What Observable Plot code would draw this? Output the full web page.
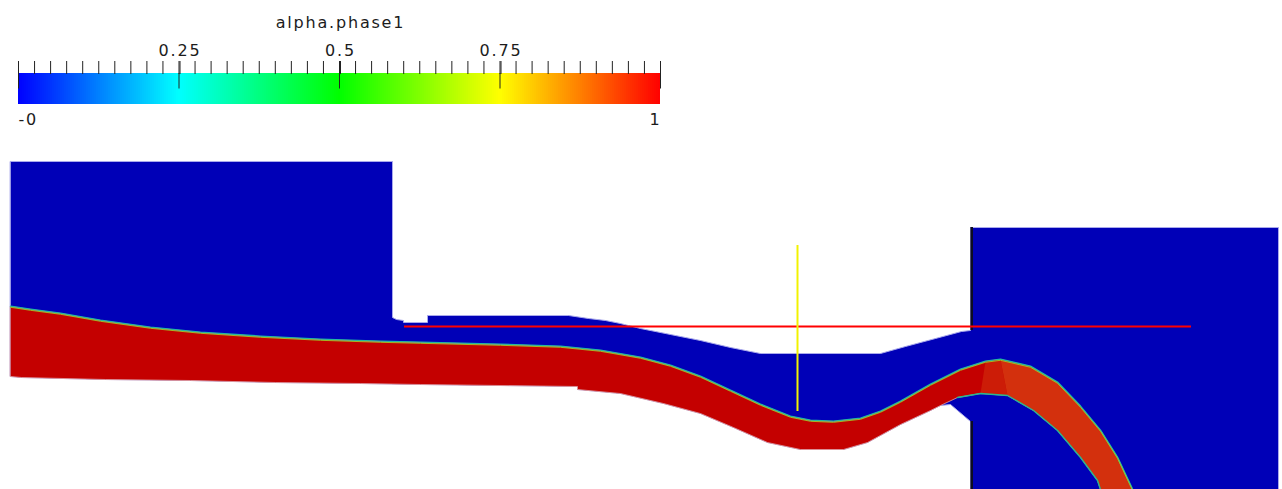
<!DOCTYPE html>
<html><head><meta charset="utf-8">
<script src="https://cdn.jsdelivr.net/npm/d3@7"></script>
<script src="https://cdn.jsdelivr.net/npm/@observablehq/plot@0.6"></script>
<style>
body{margin:0;background:#fff;}
#bar svg,#field svg{display:block;}
</style>
</head><body>
<div id="bar"></div>
<div id="field"></div>
<script>
// ---------- colour bar ----------
const colorbarTitle = "alpha.phase1";
const colorStops = ["#0000ff", "#00ffff", "#00ff00", "#ffff00", "#ff0000"];
const colorDomain = [0, 1];
const tickStep = 0.025;
const majorTicks = [0, 0.25, 0.5, 0.75, 1];
const labelTicks = [0.25, 0.5, 0.75];
const labelTickText = ["0.25", "0.5", "0.75"];
const endLabels = [{v: 0, label: "-0", anchor: "start"}, {v: 1, label: "1", anchor: "end"}];

// ---------- field geometry (x: distance from left wall, y: height above bottom) ----------
const domainTop = [
  [0,328],[382,328],[382,172],[386,170],[393,169],[393,167],[417,167],[417,174],
  [558,174],[578,171],[595,169],[610,166],[630,161],[660,155],[690,149],[720,142],
  [750,136],[870,136],[895,143],[925,151],[951,158],[960,159],[960,262],[1268,262],
  [1268,0],[960,0],[960,68],[940,85]
];
const waterTop = [
  [0,183],[20,180],[50,176],[90,169],[140,162],[190,157],[250,153],[310,150],[370,148],
  [410,147],[490,145],[550,143],[590,139],[630,132],[660,124],[690,113],[720,99],[750,85],
  [780,73],[800,69],[823,68],[850,71],[870,78],[890,88],[920,105],[950,120],[975,128],[990,130]
];
const jetOuter = [[1020,123],[1047,107],[1070,83],[1090,59],[1107,32],[1122,0]];
const jetInner = [[1090,0],[1087,9],[1070,32],[1047,59],[1023,79],[997,94],[970,96],[947,92]];
const waterBottom = [
  [930,84],[920,79],[890,65],[857,47],[833,40],[790,40],[757,47],[723,62],[690,76],
  [653,86],[610,96],[567,100],[567,103],[410,105],[350,106],[265,107],[180,109],[95,110],
  [11,112],[0,113]
];
const horizontalProbe = {y: 163, x1: 394, x2: 1181};
const verticalProbe = {x: 787, y1: 78, y2: 244};
const wallEdges = [{x: 961.2, y1: 159, y2: 262}, {x: 961.2, y1: 0, y2: 68}];

const AIR = "#0000b7", WATER = "#c40000", JET = "#d3300d", JET_FADE = "#cc1c07";

// ---------- colour bar plot ----------
const nSteps = 321;
const gradient = d3.range(nSteps).map(i => ({x1: i / nSteps, x2: (i + 1) / nSteps, v: (i + 0.5) / nSteps}));
const minorTicks = d3.range(0, 1 + 1e-9, tickStep);
const fontFamily = "'DejaVu Sans', 'Liberation Sans', sans-serif";
const ink = "#1c1c1c";

const bar = Plot.plot({
  width: 680, height: 140,
  marginLeft: 18, marginRight: 20, marginTop: 73, marginBottom: 36,
  x: {domain: colorDomain, axis: null},
  y: {domain: [0, 1], axis: null},
  color: {type: "linear", domain: colorDomain, interpolate: d3.piecewise(d3.interpolateRgb, colorStops)},
  style: {fontFamily, fontSize: "16px", color: ink, letterSpacing: "1.8px", background: "transparent"},
  marks: [
    Plot.rect(gradient, {x1: "x1", x2: "x2", y1: 0, y2: 1, fill: "v", shapeRendering: "crispEdges"}),
    Plot.axisX({anchor: "top", ticks: minorTicks, tickSize: 13, tickFormat: () => "", stroke: "#222"}),
    Plot.axisX({anchor: "top", ticks: labelTicks, tickSize: 13, tickPadding: 5, dx: 1,
      tickFormat: (d) => labelTickText[labelTicks.indexOf(d)], fill: ink, stroke: "#222"}),
    Plot.ruleX(majorTicks, {y1: 0.5, y2: 1, stroke: "#222"}),
    Plot.text(endLabels.filter(d => d.anchor === "start"), {x: "v", text: "label", frameAnchor: "bottom", dy: 20, lineAnchor: "bottom", textAnchor: "start", fill: ink}),
    Plot.text(endLabels.filter(d => d.anchor === "end"), {x: "v", text: "label", frameAnchor: "bottom", dy: 20, lineAnchor: "bottom", textAnchor: "end", dx: 1, fill: ink}),
    Plot.text([colorbarTitle], {x: 0.5, text: d => d, frameAnchor: "top", dy: -46, lineAnchor: "bottom", textAnchor: "middle", dx: 1, fill: ink})
  ]
});
document.getElementById("bar").append(bar);

// ---------- field plot ----------
const airPolygon = domainTop.concat(waterBottom);
const waterPolygon = waterTop.concat(jetOuter, jetInner, waterBottom);
const jetPolygon = waterTop.filter(d => d[0] >= 990).concat(jetOuter, jetInner.filter(d => d[0] >= 990));
const jetFadePolygon = waterTop.filter(d => d[0] >= 975).concat(jetInner.filter(d => d[0] >= 965 && d[0] <= 1000));
const surfaceLine = waterTop.concat(jetOuter);
const px = d => d[0], py = d => d[1];

const field = Plot.plot({
  width: 1282, height: 349, margin: 0,
  x: {domain: [-10, 1272], axis: null},
  y: {domain: [0, 349], axis: null},
  marks: [
    Plot.line(airPolygon, {x: px, y: py, curve: "linear-closed", fill: AIR, stroke: "#a9a9ec", strokeWidth: 1}),
    Plot.line(waterPolygon, {x: px, y: py, curve: "linear-closed", fill: WATER, stroke: "#e4a0a0", strokeWidth: 0.8}),
    Plot.line(jetFadePolygon, {x: px, y: py, curve: "linear-closed", fill: JET_FADE, stroke: "none"}),
    Plot.line(jetPolygon, {x: px, y: py, curve: "linear-closed", fill: JET, stroke: "none"}),
    Plot.line(surfaceLine, {x: px, y: py, stroke: "#22b8a0", strokeWidth: 1.4, dy: -0.4}),
    Plot.line(surfaceLine, {x: px, y: py, stroke: "#9cc828", strokeWidth: 0.9, dy: 0.8}),
    Plot.line(jetInner, {x: px, y: py, stroke: "#28b890", strokeWidth: 1.4}),
    Plot.ruleX(wallEdges, {x: "x", y1: "y1", y2: "y2", stroke: "#0c0c22", strokeWidth: 2.6}),
    Plot.ruleY([horizontalProbe], {y: "y", x1: "x1", x2: "x2", stroke: "#ff0000", strokeWidth: 2}),
    Plot.ruleX([verticalProbe], {x: "x", y1: "y1", y2: "y2", stroke: "#f2f200", strokeWidth: 2})
  ]
});
document.getElementById("field").append(field);
</script>
</body></html>
